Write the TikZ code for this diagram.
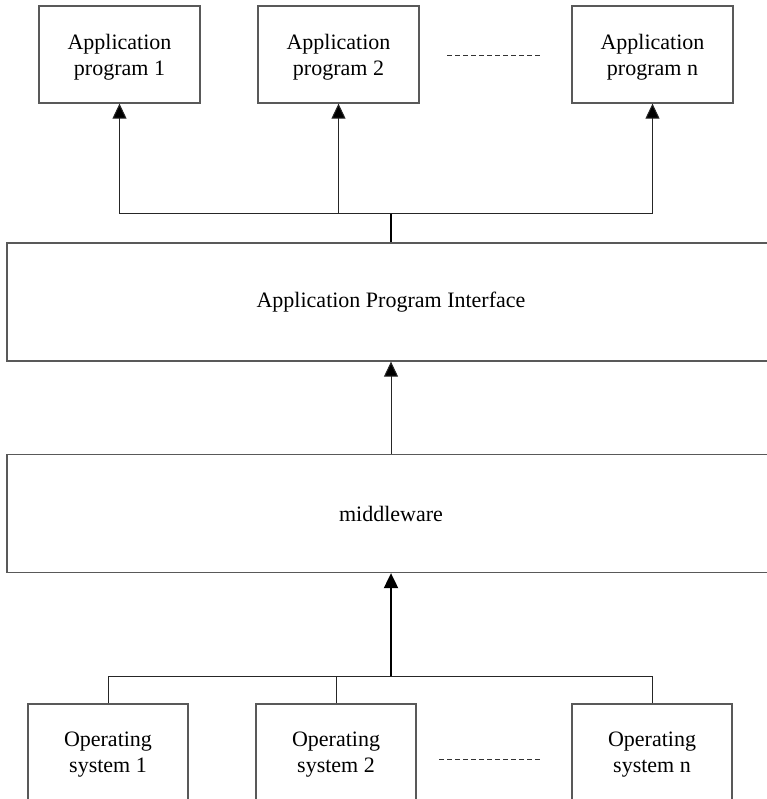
\documentclass[tikz,border=0pt]{standalone}
\usepackage{fontspec}
\setmainfont{Liberation Serif}
\usetikzlibrary{arrows.meta}
\definecolor{boxgray}{gray}{0.35}
\begin{document}
\begin{tikzpicture}[x=1pt,y=-1pt,
  box/.style={draw=boxgray, line width=1.3pt, fill=white, inner sep=0pt, align=center,
              font=\fontsize{22}{26}\selectfont},
  unit/.style={box, minimum width=161pt, minimum height=97pt, text depth=0pt},
  layer/.style={box, minimum width=768pt, minimum height=118pt},
  link/.style={draw=black!85, line width=1pt},
  up/.style={link, -{Triangle[width=14pt,length=15pt,fill=black]}},
  gap/.style={draw=black!80, line width=1pt, dash pattern=on 5pt off 3pt}]
\useasboundingbox (0,0) rectangle (766,799);

% application programs
\node[unit] (app1) at (119.5,54.5) {Application\\program 1};
\node[unit] (app2) at (338.5,54.5) {Application\\program 2};
\node[unit] (appn) at (652.5,54.5) {Application\\program n};
\draw[gap] (447,56) -- (540,56);

% layers (their right edges run past the page)
\node[layer] (api) at (391,302) {Application Program Interface};
\node[layer] (mw)  at (391,513.5) {middleware};

% operating systems (their lower edges run past the page)
\node[unit, minimum width=160pt] (os1) at (108,752.5) {Operating\\system 1};
\node[unit, minimum width=160pt] (os2) at (336,752.5) {Operating\\system 2};
\node[unit, minimum width=160pt] (osn) at (652,752.5) {Operating\\system n};
\draw[gap] (439,759) -- (540,759);

% upper distribution bus
\coordinate (busT) at (391,214);
\draw[link] (app1.south |- busT) -- (appn.south |- busT);
\draw[up] (app1.south |- busT) -- (app1.south);
\draw[up] (app2.south |- busT) -- (app2.south);
\draw[up] (appn.south |- busT) -- (appn.south);
\draw[link, line width=1.5pt, draw=black] (busT) -- (busT |- api.north);

% middleware to interface
\draw[up] (mw.north -| busT) -- (api.south -| busT);

% lower collection bus
\coordinate (busB) at (391,676);
\draw[link] (os1.north |- busB) -- (osn.north |- busB);
\draw[link] (os1.north) -- (os1.north |- busB);
\draw[link] (os2.north) -- (os2.north |- busB);
\draw[link] (osn.north) -- (osn.north |- busB);
\draw[up, line width=2pt, draw=black] (busB) -- (busB |- mw.south);
\end{tikzpicture}
\end{document}
